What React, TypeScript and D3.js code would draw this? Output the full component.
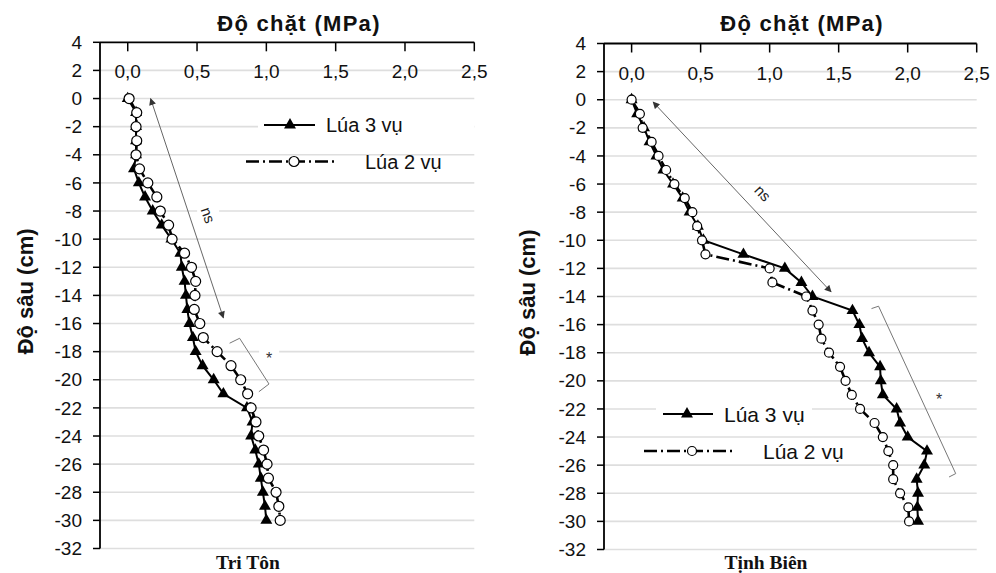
import React from 'react';
import * as d3 from 'd3';

// depth (cm) of each reading
const depths = [0, -1, -2, -3, -4, -5, -6, -7, -8, -9, -10, -11, -12, -13, -14, -15, -16, -17, -18, -19, -20, -21, -22, -23, -24, -25, -26, -27, -28, -29, -30];

// Tri Tôn
const triTonLua3 = [0.0, 0.06, 0.06, 0.06, 0.06, 0.045, 0.08, 0.125, 0.18, 0.245, 0.315, 0.38, 0.39, 0.41, 0.42, 0.43, 0.445, 0.47, 0.49, 0.54, 0.62, 0.69, 0.86, 0.9, 0.89, 0.92, 0.945, 0.96, 0.975, 0.99, 1.0];
const triTonLua2 = [0.01, 0.065, 0.06, 0.065, 0.06, 0.085, 0.145, 0.21, 0.235, 0.295, 0.32, 0.41, 0.46, 0.49, 0.485, 0.48, 0.52, 0.545, 0.645, 0.745, 0.815, 0.865, 0.89, 0.925, 0.945, 0.98, 1.005, 1.015, 1.07, 1.09, 1.1];

// Tịnh Biên
const tinhBienLua3 = [0.0, 0.04, 0.09, 0.13, 0.18, 0.23, 0.3, 0.37, 0.42, 0.48, 0.52, 0.81, 1.11, 1.23, 1.31, 1.6, 1.65, 1.67, 1.72, 1.8, 1.805, 1.82, 1.92, 1.945, 2.0, 2.14, 2.12, 2.065, 2.075, 2.07, 2.075];
const tinhBienLua2 = [0.0, 0.06, 0.08, 0.145, 0.195, 0.25, 0.31, 0.385, 0.44, 0.475, 0.51, 0.535, 1.0, 1.02, 1.265, 1.31, 1.355, 1.375, 1.43, 1.51, 1.55, 1.595, 1.655, 1.76, 1.82, 1.86, 1.895, 1.895, 1.945, 2.005, 2.01];

const xTicks = [0, 0.5, 1, 1.5, 2, 2.5];
const yTicks = [4, 2, 0, -2, -4, -6, -8, -10, -12, -14, -16, -18, -20, -22, -24, -26, -28, -30, -32];
const seriesNames = ['Lúa 3 vụ', 'Lúa 2 vụ'];
const xTitle = 'Độ chặt (MPa)';
const yTitle = 'Độ sâu (cm)';
const siteNames = ['Tri Tôn', 'Tịnh Biên'];

const FONT = '"Liberation Sans", Arial, sans-serif';
const SERIF = '"Liberation Serif", "Times New Roman", serif';
const fmt = (v: number) => v.toFixed(1).replace('.', ',');
const tri = d3.symbol(d3.symbolTriangle, 62)() as string;
const DASH = '13 4 2 4';

type P = [number, number];
type Cfg = {
  xRange: [number, number];
  yRange: [number, number];
  titleX: number;
  yTitleX: number;
  siteX: number;
  legFont: number;
  leg1: { x0: number; x1: number; y: number; m: number; tx: number; box: [number, number, number, number] };
  leg2: { x0: number; x1: number; y: number; m: number; tx: number };
  r: number;
  arrow: [P, P];
  ns: { at: P; angle: number; box: [number, number] };
  bracket: P[];
  star: P;
};

const panels: Cfg[] = [
  {
    xRange: [100, 474.3],
    yRange: [42.3, 548.5],
    titleX: 299,
    yTitleX: 33,
    siteX: 248,
    legFont: 20,
    leg1: { x0: 264, x1: 315, y: 125, m: 290, tx: 326, box: [258, 112, 474, 139] },
    leg2: { x0: 246, x1: 335, y: 161.5, m: 294, tx: 365 },
    r: 5,
    arrow: [[0.165, 0], [0.69, -15.6]],
    ns: { at: [0.58, -8.3], angle: 71, box: [22, 16] },
    bracket: [[0.735, -17.4], [0.807, -17.05], [1.019, -20.3], [0.946, -20.85]],
    star: [1.02, -18.4],
  },
  {
    xRange: [604, 976.7],
    yRange: [43.5, 549.5],
    titleX: 802,
    yTitleX: 535,
    siteX: 766,
    legFont: 21,
    leg1: { x0: 663, x1: 713, y: 414, m: 687, tx: 724, box: [656, 400, 812, 428] },
    leg2: { x0: 644, x1: 733, y: 451, m: 692, tx: 763 },
    r: 4.5,
    arrow: [[0.156, -0.17], [1.445, -13.67]],
    ns: { at: [0.95, -6.65], angle: 47, box: [24, 16] },
    bracket: [[1.738, -14.86], [1.789, -14.69], [2.348, -26.6], [2.3, -26.84]],
    star: [2.228, -21.25],
  },
];

const Panel = ({ cfg, lua3, lua2, site, id }: { cfg: Cfg; lua3: number[]; lua2: number[]; site: string; id: number }) => {
  const x = d3.scaleLinear().domain([-0.2, 2.5]).range(cfg.xRange);
  const y = d3.scaleLinear().domain([4, -32]).range(cfg.yRange);
  const line = d3
    .line<number>()
    .x((d) => x(d))
    .y((_, i) => y(depths[i]));
  const [x0, x1] = cfg.xRange;
  const yTop = y(4);
  const midY = (y(4) + y(-32)) / 2;
  const [a, b] = cfg.arrow;
  const br = d3.line<P>().x((p) => x(p[0])).y((p) => y(p[1]));

  return (
    <g>
      {/* grid */}
      {yTicks.filter((t) => t < 4).map((t) => (
        <line key={t} x1={x0} x2={x1} y1={y(t)} y2={y(t)} stroke="#dedede" strokeWidth={1.6} />
      ))}
      {/* white boxes under legend row 1 and annotation labels */}
      <rect x={cfg.leg1.box[0]} y={cfg.leg1.box[1]} width={cfg.leg1.box[2] - cfg.leg1.box[0]} height={cfg.leg1.box[3] - cfg.leg1.box[1]} fill="#fff" />
      <rect x={x(cfg.ns.at[0]) - cfg.ns.box[0] / 2} y={y(cfg.ns.at[1]) - cfg.ns.box[1] / 2} width={cfg.ns.box[0]} height={cfg.ns.box[1]} fill="#fff" />
      <rect x={x(cfg.star[0]) - 10} y={y(cfg.star[1]) - 9} width={20} height={18} fill="#fff" />

      {/* axes */}
      <line x1={x0} x2={x0} y1={yTop} y2={y(-32)} stroke="#000" strokeWidth={1.8} />
      <line x1={x0} x2={x1} y1={yTop} y2={yTop} stroke="#000" strokeWidth={1.8} />
      {yTicks.map((t) => (
        <g key={t}>
          <line x1={x0 - 7} x2={x0} y1={y(t)} y2={y(t)} stroke="#000" strokeWidth={1.5} />
          <text x={x0 - 18} y={y(t)} dy="0.35em" textAnchor="end" fontFamily={FONT} fontSize={19} fill="#111">
            {t}
          </text>
        </g>
      ))}
      {xTicks.map((t) => (
        <g key={t}>
          <line x1={x(t)} x2={x(t)} y1={yTop} y2={yTop + 9} stroke="#000" strokeWidth={1.5} />
          <text x={x(t)} y={yTop + 36} textAnchor="middle" fontFamily={FONT} fontSize={19} fill="#111">
            {fmt(t)}
          </text>
        </g>
      ))}
      <text x={cfg.titleX} y={31} textAnchor="middle" fontFamily={FONT} fontSize={22} fontWeight="bold" letterSpacing={1.3} fill="#111">
        {xTitle}
      </text>
      <text transform={`translate(${cfg.yTitleX},${midY - 4}) rotate(-90)`} textAnchor="middle" fontFamily={FONT} fontSize={22} fontWeight="bold" fill="#111">
        {yTitle}
      </text>
      <text x={cfg.siteX} y={569} textAnchor="middle" fontFamily={SERIF} fontSize={19.5} fontWeight="bold" fill="#111">
        {site}
      </text>

      {/* annotations */}
      <line x1={x(a[0])} y1={y(a[1])} x2={x(b[0])} y2={y(b[1])} stroke="#555" strokeWidth={0.9} markerStart={`url(#ah${id})`} markerEnd={`url(#ah${id})`} />
      <text transform={`translate(${x(cfg.ns.at[0])},${y(cfg.ns.at[1])}) rotate(${cfg.ns.angle})`} textAnchor="middle" dy="0.35em" fontFamily={FONT} fontSize={15} fill="#222">
        ns
      </text>
      <path d={br(cfg.bracket) as string} fill="none" stroke="#777" strokeWidth={1} />
      <text x={x(cfg.star[0])} y={y(cfg.star[1]) + 7} textAnchor="middle" fontFamily={FONT} fontSize={16} fill="#333">
        *
      </text>

      {/* series: Lúa 3 vụ */}
      <path d={line(lua3) as string} fill="none" stroke="#000" strokeWidth={2} />
      {lua3.map((v, i) => (
        <path key={i} d={tri} transform={`translate(${x(v)},${y(depths[i])})`} fill="#000" />
      ))}
      {/* series: Lúa 2 vụ */}
      <path d={line(lua2) as string} fill="none" stroke="#000" strokeWidth={2.6} strokeDasharray={DASH} />
      {lua2.map((v, i) => (
        <circle key={i} cx={x(v)} cy={y(depths[i])} r={cfg.r} fill="#fff" stroke="#000" strokeWidth={1.2} />
      ))}

      {/* legend */}
      <line x1={cfg.leg1.x0} x2={cfg.leg1.x1} y1={cfg.leg1.y} y2={cfg.leg1.y} stroke="#000" strokeWidth={2} />
      <path d={tri} transform={`translate(${cfg.leg1.m},${cfg.leg1.y})`} fill="#000" />
      <text x={cfg.leg1.tx} y={cfg.leg1.y} dy="0.36em" fontFamily={FONT} fontSize={cfg.legFont} fill="#111">
        {seriesNames[0]}
      </text>
      <line x1={cfg.leg2.x0} x2={cfg.leg2.x1} y1={cfg.leg2.y} y2={cfg.leg2.y} stroke="#000" strokeWidth={2.6} strokeDasharray={DASH} />
      <circle cx={cfg.leg2.m} cy={cfg.leg2.y} r={cfg.r} fill="#fff" stroke="#000" strokeWidth={1.2} />
      <text x={cfg.leg2.tx} y={cfg.leg2.y} dy="0.36em" fontFamily={FONT} fontSize={cfg.legFont} fill="#111">
        {seriesNames[1]}
      </text>
    </g>
  );
};

export default function App() {
  return (
    <svg width={996} height={573} style={{ position: 'absolute', left: 0, top: 0, background: '#fff' }}>
      <defs>
        {[0, 1].map((i) => (
          <marker key={i} id={`ah${i}`} viewBox="0 0 10 10" refX={9} refY={5} markerWidth={8} markerHeight={7} markerUnits="userSpaceOnUse" orient="auto-start-reverse">
            <path d="M0,0L10,5L0,10z" fill="#333" />
          </marker>
        ))}
      </defs>
      <rect width={996} height={573} fill="#fff" />
      <Panel cfg={panels[0]} lua3={triTonLua3} lua2={triTonLua2} site={siteNames[0]} id={0} />
      <Panel cfg={panels[1]} lua3={tinhBienLua3} lua2={tinhBienLua2} site={siteNames[1]} id={1} />
    </svg>
  );
}
